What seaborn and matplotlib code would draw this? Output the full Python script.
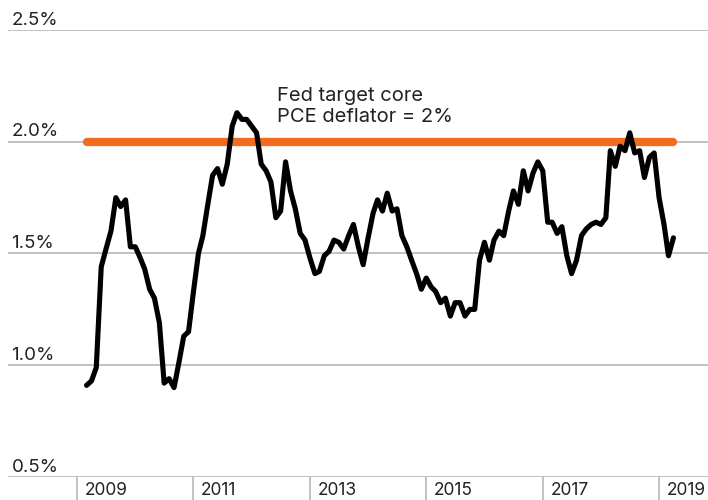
import numpy as np
import pandas as pd
import matplotlib.pyplot as plt
import matplotlib.transforms as mtransforms
import seaborn as sns

# Core PCE deflator, % y/y, monthly Mar 2009 - Apr 2019
valores = [
    0.91, 0.93, 0.99, 1.44, 1.52, 1.60, 1.75, 1.71, 1.74, 1.53,
    1.53, 1.48, 1.43, 1.34, 1.30, 1.19, 0.92, 0.94, 0.90, 1.01,
    1.13, 1.15, 1.33, 1.50, 1.58, 1.72, 1.85, 1.88, 1.81, 1.90,
    2.07, 2.13, 2.10, 2.10, 2.07, 2.04, 1.90, 1.87, 1.82, 1.66,
    1.69, 1.91, 1.78, 1.70, 1.59, 1.56, 1.48, 1.41, 1.42, 1.49,
    1.51, 1.56, 1.55, 1.52, 1.58, 1.63, 1.53, 1.45, 1.57, 1.68,
    1.74, 1.69, 1.77, 1.69, 1.70, 1.58, 1.53, 1.47, 1.41, 1.34,
    1.39, 1.35, 1.33, 1.28, 1.30, 1.22, 1.28, 1.28, 1.22, 1.25,
    1.25, 1.47, 1.55, 1.47, 1.56, 1.60, 1.58, 1.69, 1.78, 1.72,
    1.87, 1.78, 1.86, 1.91, 1.87, 1.64, 1.64, 1.59, 1.62, 1.49,
    1.41, 1.47, 1.58, 1.61, 1.63, 1.64, 1.63, 1.66, 1.96, 1.89,
    1.98, 1.96, 2.04, 1.95, 1.96, 1.84, 1.93, 1.95, 1.75, 1.63,
    1.49, 1.57,
]
inicio = '2009-03-01'
meta_fed = 2.0
niveis_y = [0.5, 1.0, 1.5, 2.0, 2.5]
rotulos_y = ['0.5%', '1.0%', '1.5%', '2.0%', '2.5%']
anos_x = [2009, 2011, 2013, 2015, 2017, 2019]
texto_meta = 'Fed target core\nPCE deflator = 2%'

df = pd.DataFrame({
    'data': pd.date_range(inicio, periods=len(valores), freq='MS'),
    'pce': valores,
})

sns.set_style('white')
plt.rcParams['font.family'] = ['Inter', 'DejaVu Sans']

fig = plt.figure(figsize=(7.08, 5.0), dpi=100)
ax = fig.add_axes([8 / 708, 23 / 500, 700 / 708, 447 / 500])

cinza = '#bdbdbd'
texto_cor = '#222222'

# linhas de grade horizontais
for nivel, rotulo in zip(niveis_y, rotulos_y):
    ax.axhline(nivel, color=cinza, lw=1.3, zorder=1)
    ax.text(0.005, nivel + 0.006, rotulo, transform=ax.get_yaxis_transform(),
            ha='left', va='bottom', fontsize=13.5, color=texto_cor)

# meta do Fed
ax.plot([df['data'].iloc[0], df['data'].iloc[-1]], [meta_fed, meta_fed],
        color='#f26b21', lw=6, solid_capstyle='round', zorder=2)

sns.lineplot(data=df, x='data', y='pce', color='black', lw=3.7, ax=ax, zorder=3)

ax.text(pd.Timestamp('2012-06-10'), 2.072, texto_meta, ha='left', va='bottom',
        fontsize=14.5, color=texto_cor, linespacing=1.2)

ax.set_xlim(pd.Timestamp('2007-10-25'), pd.Timestamp('2019-11-04'))
ax.set_ylim(0.5, 2.5)
ax.set_xticks([])
ax.set_yticks([])
ax.set_xlabel('')
ax.set_ylabel('')
for s in ax.spines.values():
    s.set_visible(False)

# separadores e rótulos dos anos abaixo do eixo
trans = mtransforms.blended_transform_factory(ax.transData, ax.transAxes)
for ano in anos_x:
    d = pd.Timestamp(f'{ano}-01-01')
    ax.plot([d, d], [0, -0.06], color=cinza, lw=1.3, transform=trans, clip_on=False)
    ax.text(d + pd.Timedelta(days=48), -0.012, str(ano), transform=trans,
            ha='left', va='top', fontsize=12.5, color=texto_cor)

plt.savefig('out.png', dpi=100)
